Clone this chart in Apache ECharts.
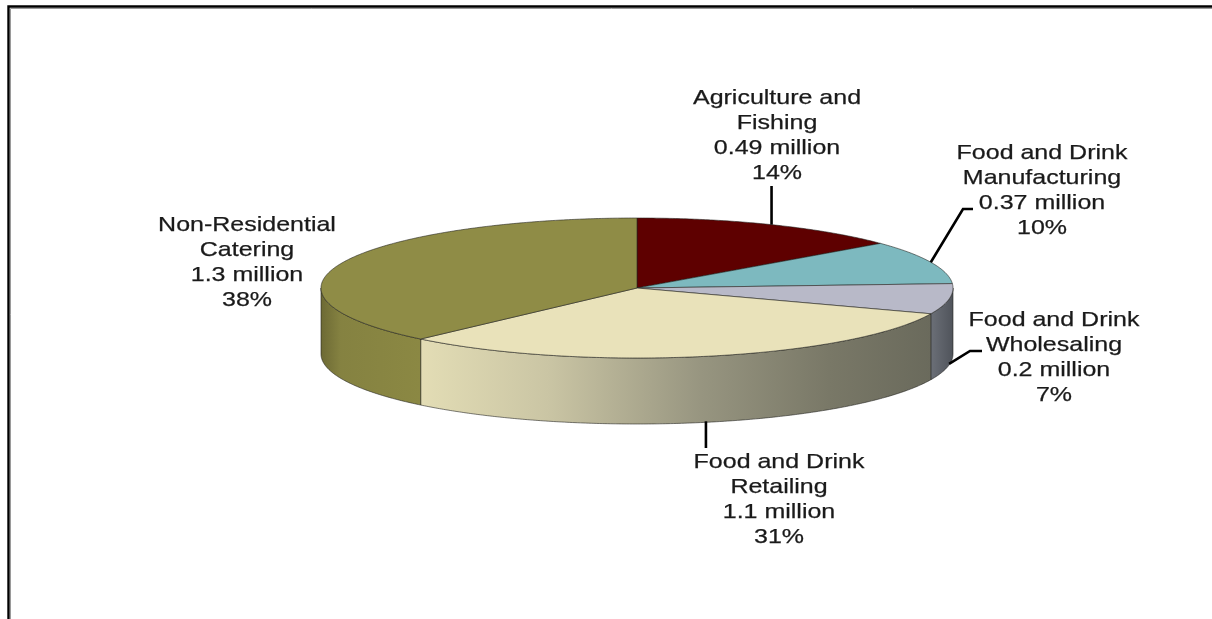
<!DOCTYPE html>
<html>
<head>
<meta charset="utf-8">
<script src="https://cdn.jsdelivr.net/npm/echarts@6/dist/echarts.min.js"></script>
<style>
  html, body { margin: 0; padding: 0; background: #ffffff; }
  #chart { width: 1212px; height: 619px; }
</style>
</head>
<body>
<div id="chart"></div>
<script>
// Food chain employment by sector
const sectors = [
  'Agriculture and\nFishing',
  'Food and Drink\nManufacturing',
  'Food and Drink\nWholesaling',
  'Food and Drink\nRetailing',
  'Non-Residential\nCatering'
];
const jobsMillion = [0.49, 0.37, 0.2, 1.1, 1.3];
const sharePct = [14, 10, 7, 31, 38];

// Slice styling
const topColors = ['#5E0000', '#7DB9BF', '#B8B9C8', '#E9E2BA', '#8F8C46'];
const sideFills = [
  '#4A0000',
  '#5E9095',
  { type: 'linear', x: 0, y: 0, x2: 1, y2: 0, colorStops: [
    { offset: 0, color: '#6C7078' }, { offset: 1, color: '#4F535A' } ] },
  { type: 'linear', x: 0, y: 0, x2: 1, y2: 0, colorStops: [
    { offset: 0, color: '#E3DDB5' }, { offset: 0.25, color: '#CAC5A4' },
    { offset: 0.55, color: '#979580' }, { offset: 0.8, color: '#797867' },
    { offset: 1, color: '#6A6A5C' } ] },
  { type: 'linear', x: 0, y: 0, x2: 1, y2: 0, colorStops: [
    { offset: 0, color: '#6C6934' }, { offset: 0.2, color: '#858241' },
    { offset: 1, color: '#8B8843' } ] }
];

// Projected pie geometry (ellipse of the top face, rim depth)
const CX = 637, CY = 288, RX = 316, RY = 70, DEPTH = 66;

// Label placement: centre x, first line y, and leader bend points
const labelLayout = [
  { x: 777, y: 98, leader: (s) => [[s[0], 186]] },
  { x: 1042, y: 153, leader: () => [[963, 209], [973, 209]] },
  { x: 1054, y: 320, leader: () => [[970, 351], [982, 351]] },
  { x: 779, y: 462, leader: (s) => [[s[0], 448]] },
  { x: 247, y: 225, leader: null }
];
const LINE_H = 25.2;

const startAngles = [];
(function () {
  let acc = 0;
  sharePct.forEach(function (v) { startAngles.push(acc); acc += v * 3.6; });
})();

function pt(theta, dz) {
  const r = theta * Math.PI / 180;
  return [CX + RX * Math.sin(r), CY - RY * Math.cos(r) + dz];
}
function arc(a, b, dz) {
  const n = Math.max(2, Math.ceil((b - a) / 0.5));
  const pts = [];
  for (let k = 0; k <= n; k++) pts.push(pt(a + (b - a) * k / n, dz));
  return pts;
}
function sliceRange(i, value) {
  const a = startAngles[i];
  return [a, a + value * 3.6];
}

const edge = 'rgba(35,35,30,0.65)';

function renderSide(params, api) {
  const i = params.dataIndex;
  const r = sliceRange(i, api.value(1));
  const lo = Math.max(r[0], 90), hi = Math.min(r[1], 270);
  if (lo >= hi) return { type: 'group', children: [] };
  const pts = arc(lo, hi, 0).concat(arc(lo, hi, DEPTH).reverse());
  return {
    type: 'polygon',
    shape: { points: pts },
    style: { fill: sideFills[i], stroke: edge, lineWidth: 0.9 }
  };
}

function renderTop(params, api) {
  const i = params.dataIndex;
  const r = sliceRange(i, api.value(1));
  const pts = [[CX, CY]].concat(arc(r[0], r[1], 0));
  return {
    type: 'polygon',
    shape: { points: pts },
    style: { fill: topColors[i], stroke: edge, lineWidth: 0.9 }
  };
}

function renderLabel(params, api) {
  const i = params.dataIndex;
  const r = sliceRange(i, api.value(1));
  const mid = (r[0] + r[1]) / 2;
  const front = mid > 90 && mid < 270;
  const start = pt(mid, front ? DEPTH - 1 : 0);
  const lay = labelLayout[i];
  const children = [];
  if (lay.leader) {
    children.push({
      type: 'polyline',
      shape: { points: [start].concat(lay.leader(start)) },
      style: { stroke: '#000000', lineWidth: 2.6, fill: null }
    });
  }
  const lines = sectors[i].split('\n').concat([
    String(jobsMillion[i]) + ' million',
    String(api.value(1)) + '%'
  ]);
  lines.forEach(function (t, k) {
    children.push({
      type: 'text',
      x: lay.x,
      y: lay.y + k * LINE_H,
      scaleX: 1.19,
      style: {
        text: t,
        fill: '#1A1A1A',
        stroke: '#1A1A1A',
        lineWidth: 0.25,
        font: '21px "Liberation Sans", Arial, sans-serif',
        align: 'center', verticalAlign: 'middle',
        textAlign: 'center', textVerticalAlign: 'middle'
      }
    });
  });
  return { type: 'group', children: children };
}

const seriesData = sharePct.map(function (v, i) { return [i, v]; });

const chart = echarts.init(document.getElementById('chart'), null, { renderer: 'canvas' });
chart.setOption({
  animation: false,
  backgroundColor: '#ffffff',
  graphic: [
    { type: 'rect', z: 0, shape: { x: 10.5, y: 8.5, width: 1300, height: 700 },
      style: { fill: null, stroke: '#9A9A9A', lineWidth: 1 } },
    { type: 'rect', z: 1, shape: { x: 8.5, y: 6.5, width: 1300, height: 700 },
      style: { fill: null, stroke: '#000000', lineWidth: 2.4 } }
  ],
  series: [
    { type: 'custom', coordinateSystem: 'none', z: 2, silent: true,
      data: seriesData, renderItem: renderSide },
    { type: 'custom', coordinateSystem: 'none', z: 3, silent: true,
      data: seriesData, renderItem: renderTop },
    { type: 'custom', coordinateSystem: 'none', z: 4, silent: true,
      data: seriesData, renderItem: renderLabel }
  ]
});
</script>
</body>
</html>
